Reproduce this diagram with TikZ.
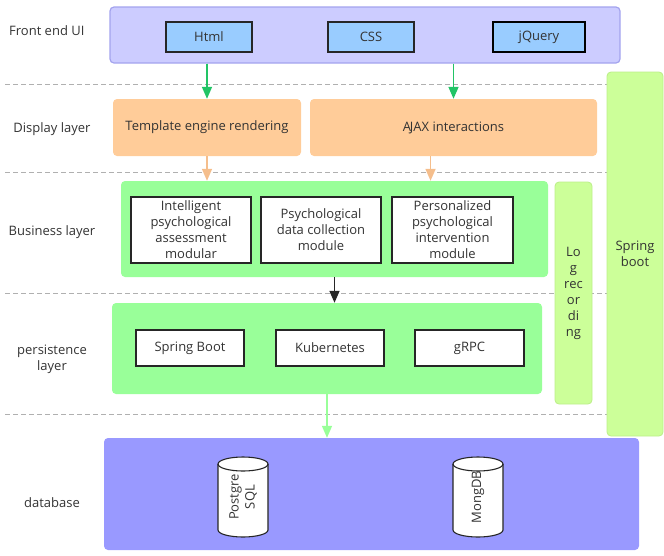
\documentclass[tikz,border=0pt]{standalone}
\usepackage{fontspec}
\setmainfont{Open Sans}
\usetikzlibrary{arrows.meta}
\definecolor{txt}{HTML}{333333}
\definecolor{feFill}{HTML}{CCCCFF}
\definecolor{feLine}{HTML}{A3A3EE}
\definecolor{techFill}{HTML}{99CCFF}
\definecolor{orangeFill}{HTML}{FFCC99}
\definecolor{greenFill}{HTML}{99FF99}
\definecolor{limeFill}{HTML}{CCFF99}
\definecolor{limeLine}{HTML}{BBEE88}
\definecolor{dbFill}{HTML}{9999FF}
\definecolor{arrGreen}{HTML}{22C466}
\definecolor{arrOrange}{HTML}{F5BE8C}
\definecolor{arrLight}{HTML}{99FF99}
\definecolor{sepLine}{HTML}{B0B0B0}
\tikzset{
  every node/.style={text=txt, font=\fontsize{13}{16}\selectfont, inner sep=0pt},
  layerlabel/.style={align=center},
  panel/.style={rounded corners=4pt},
  techbox/.style={draw=black!85, line width=1.1pt, fill=techFill, minimum height=30pt},
  modbox/.style={draw=black!85, line width=1.1pt, fill=white, align=center},
  sidebar/.style={panel, fill=limeFill, draw=limeLine, line width=0.8pt, align=center},
  dblabel/.style={rotate=90, align=center, minimum width=80pt, minimum height=50pt},
  cylline/.style={draw=black!85, line width=1.1pt},
  separator/.style={draw=sepLine, dash pattern=on 5pt off 3pt, line width=0.8pt},
  flow/.style={-{Triangle[width=10pt,length=12pt]}, line width=1.6pt},
}
% cylinder outline drawn around a named node's centre
\newcommand{\dbdrum}[1]{%
  \begin{scope}[shift={(#1.center)}]
    \draw[cylline, fill=white] (-25,-33) -- (-25,33)
      arc[start angle=180, end angle=360, x radius=25pt, y radius=7pt]
      -- (25,-33)
      arc[start angle=0, end angle=180, x radius=25pt, y radius=7pt] -- cycle;
    \draw[cylline] (-25,-33) arc[start angle=180, end angle=360, x radius=25pt, y radius=7pt];
  \end{scope}}
\begin{document}
\begin{tikzpicture}[x=1pt,y=-1pt]
\useasboundingbox (0,0) rectangle (664,555);

% layer separators
\draw[separator] (5,84) -- (607,84);
\draw[separator] (5,172) -- (607,172);
\draw[separator] (5,293) -- (607,293);
\draw[separator] (5,414) -- (607,414);

% layer captions
\node[layerlabel, anchor=west] (lblFront) at (9,31) {Front end UI};
\node[layerlabel] (lblDisplay) at (52,129) {Display layer};
\node[layerlabel] (lblBusiness) at (52,232) {Business layer};
\node[layerlabel] (lblPersist) at (52,359) {persistence\\layer};
\node[layerlabel] (lblDb) at (52,503) {database};

% front end
\node[panel, fill=feFill, draw=feLine, line width=1.2pt, minimum width=510pt, minimum height=56pt] (fe) at (365,35) {};
\node[techbox, minimum width=86pt] (html) at (209,37) {Html};
\node[techbox, minimum width=86pt] (css) at (371,37) {CSS};
\node[techbox, minimum width=92pt, draw=black, line width=1.5pt] (jq) at (539,37) {jQuery};

% display layer
\node[panel, fill=orangeFill, minimum width=188pt, minimum height=57pt] (tmpl) at (207,127.5) {Template engine rendering};
\node[panel, fill=orangeFill, minimum width=287pt, minimum height=57pt] (ajax) at (453.5,127.5) {A\kern-1.2pt JAX interactions};

% business layer
\node[panel, fill=greenFill, minimum width=427pt, minimum height=96pt] (biz) at (334.5,229) {};
\node[modbox, minimum width=120pt, minimum height=66pt] (assess) at (191,230) {Intelligent\\psychological\\assessment\\modular};
\node[modbox, minimum width=120pt, minimum height=66pt] (collect) at (321,230) {Psychological\\data collection\\module};
\node[modbox, minimum width=121pt, minimum height=66pt] (interv) at (452.5,230) {Personalized\\psychological\\intervention\\module};

% persistence layer
\node[panel, fill=greenFill, minimum width=430pt, minimum height=91pt] (pers) at (327,348.5) {};
\node[modbox, minimum width=108pt, minimum height=36pt] (sboot) at (190,348) {Spring Boot};
\node[modbox, minimum width=108pt, minimum height=36pt] (kube) at (330,348) {Kubernetes};
\node[modbox, minimum width=109pt, minimum height=36pt] (grpc) at (469.5,348) {gRPC};

% side bars
\node[sidebar, minimum width=37pt, minimum height=222pt] (logrec) at (573.5,293) {Lo\\g\\rec\\or\\di\\ng};
\node[sidebar, minimum width=56pt, minimum height=364pt] (spring) at (635,254) {Spring\\boot};

% database
\node[panel, fill=dbFill, minimum width=535pt, minimum height=112pt] (db) at (371.5,494) {};
\coordinate (pgc) at (243,497);
\coordinate (mgc) at (478,497);
\dbdrum{pgc}
\dbdrum{mgc}
\node[dblabel] (pg) at (pgc) {Postgre\\SQL};
\node[dblabel] (mongo) at (mgc) {MongDB};

% flows between layers
\draw[flow, draw=arrGreen, fill=arrGreen] (fe.south -| tmpl.north) -- (tmpl.north);
\draw[flow, draw=arrGreen, fill=arrGreen] (fe.south -| ajax.north) -- (ajax.north);
\draw[flow, draw=arrOrange, fill=arrOrange] (tmpl.south) -- (tmpl.south |- biz.north);
\draw[flow, draw=arrOrange, fill=arrOrange] (ajax.south -| collect.east) ++(49,0) coordinate (ajaxOut) -- (ajaxOut |- biz.north);
\draw[flow, draw=black!85, fill=black!85] (biz.south) -- (biz.south |- pers.north);
\draw[flow, draw=arrLight, fill=arrLight] (pers.south) -- (pers.south |- db.north);
\end{tikzpicture}
\end{document}
